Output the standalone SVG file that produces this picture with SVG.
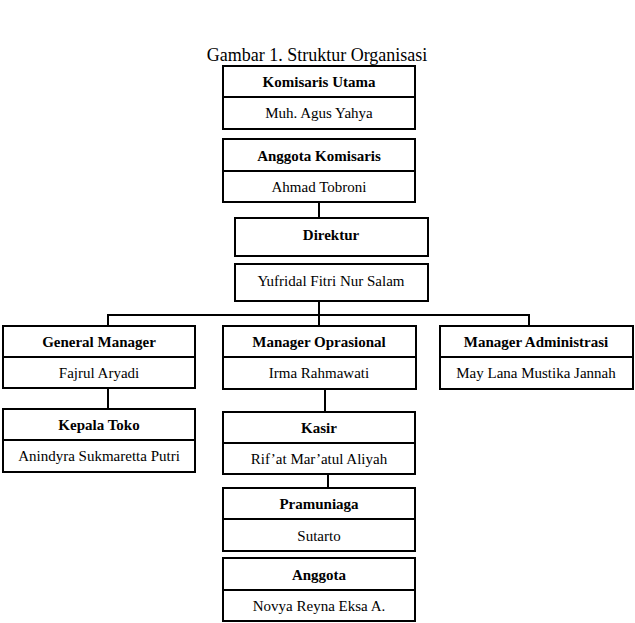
<svg xmlns="http://www.w3.org/2000/svg" width="635" height="623" viewBox="0 0 635 623">
<style>
.box{fill:#fff;stroke:#000;stroke-width:2}
.div{stroke:#000;stroke-width:2}
.h{font-family:"Liberation Serif","Times New Roman",serif;font-weight:bold;font-size:15px;text-anchor:middle;fill:#000}
.n{font-family:"Liberation Serif","Times New Roman",serif;font-size:15px;text-anchor:middle;fill:#000}
.t{font-family:"Liberation Serif","Times New Roman",serif;font-size:18px;text-anchor:middle;fill:#000}
.c{fill:none;stroke:#000;stroke-width:2}
</style>
<rect width="635" height="623" fill="#fff"/>
<text class="t" x="317" y="61">Gambar 1. Struktur Organisasi</text>
<g id="connectors">
<path class="c" d="M319 202V218"/>
<path class="c" d="M319 301V315M108 326V315H529V326M319 315V326"/>
<path class="c" d="M108 388V409"/>
<path class="c" d="M325 389V412"/>
<path class="c" d="M328 474V488"/>
</g>
<g id="komisaris-utama">
<rect class="box" x="223" y="66" width="192" height="63"/>
<line class="div" x1="223" y1="97" x2="415" y2="97"/>
<text class="h" x="319" y="87">Komisaris Utama</text>
<text class="n" x="319" y="118">Muh. Agus Yahya</text>
</g>
<g id="anggota-komisaris">
<rect class="box" x="223" y="139" width="192" height="63"/>
<line class="div" x1="223" y1="171" x2="415" y2="171"/>
<text class="h" x="319" y="161">Anggota Komisaris</text>
<text class="n" x="319" y="192">Ahmad Tobroni</text>
</g>
<g id="direktur">
<rect class="box" x="235" y="218" width="193" height="38"/>
<text class="h" x="331" y="240">Direktur</text>
</g>
<g id="direktur-nama">
<rect class="box" x="235" y="264" width="193" height="37"/>
<text class="n" x="331" y="286">Yufridal Fitri Nur Salam</text>
</g>
<g id="general-manager">
<rect class="box" x="3" y="326" width="192" height="62"/>
<line class="div" x1="3" y1="357" x2="195" y2="357"/>
<text class="h" x="99" y="347">General Manager</text>
<text class="n" x="99" y="378">Fajrul Aryadi</text>
</g>
<g id="manager-oprasional">
<rect class="box" x="223" y="326" width="193" height="63"/>
<line class="div" x1="223" y1="357" x2="416" y2="357"/>
<text class="h" x="319" y="347">Manager Oprasional</text>
<text class="n" x="319" y="378">Irma Rahmawati</text>
</g>
<g id="manager-administrasi">
<rect class="box" x="440" y="326" width="193" height="63"/>
<line class="div" x1="440" y1="357" x2="633" y2="357"/>
<text class="h" x="536" y="347">Manager Administrasi</text>
<text class="n" x="536" y="378">May Lana Mustika Jannah</text>
</g>
<g id="kepala-toko">
<rect class="box" x="3" y="409" width="192" height="63"/>
<line class="div" x1="3" y1="440" x2="195" y2="440"/>
<text class="h" x="99" y="430">Kepala Toko</text>
<text class="n" x="99" y="461">Anindyra Sukmaretta Putri</text>
</g>
<g id="kasir">
<rect class="box" x="223" y="412" width="192" height="62"/>
<line class="div" x1="223" y1="443" x2="415" y2="443"/>
<text class="h" x="319" y="433">Kasir</text>
<text class="n" x="319" y="464">Rif’at Mar’atul Aliyah</text>
</g>
<g id="pramuniaga">
<rect class="box" x="223" y="488" width="192" height="63"/>
<line class="div" x1="223" y1="519" x2="415" y2="519"/>
<text class="h" x="319" y="509">Pramuniaga</text>
<text class="n" x="319" y="541">Sutarto</text>
</g>
<g id="anggota">
<rect class="box" x="223" y="558" width="192" height="63"/>
<line class="div" x1="223" y1="590" x2="415" y2="590"/>
<text class="h" x="319" y="580">Anggota</text>
<text class="n" x="319" y="611">Novya Reyna Eksa A.</text>
</g>
</svg>
